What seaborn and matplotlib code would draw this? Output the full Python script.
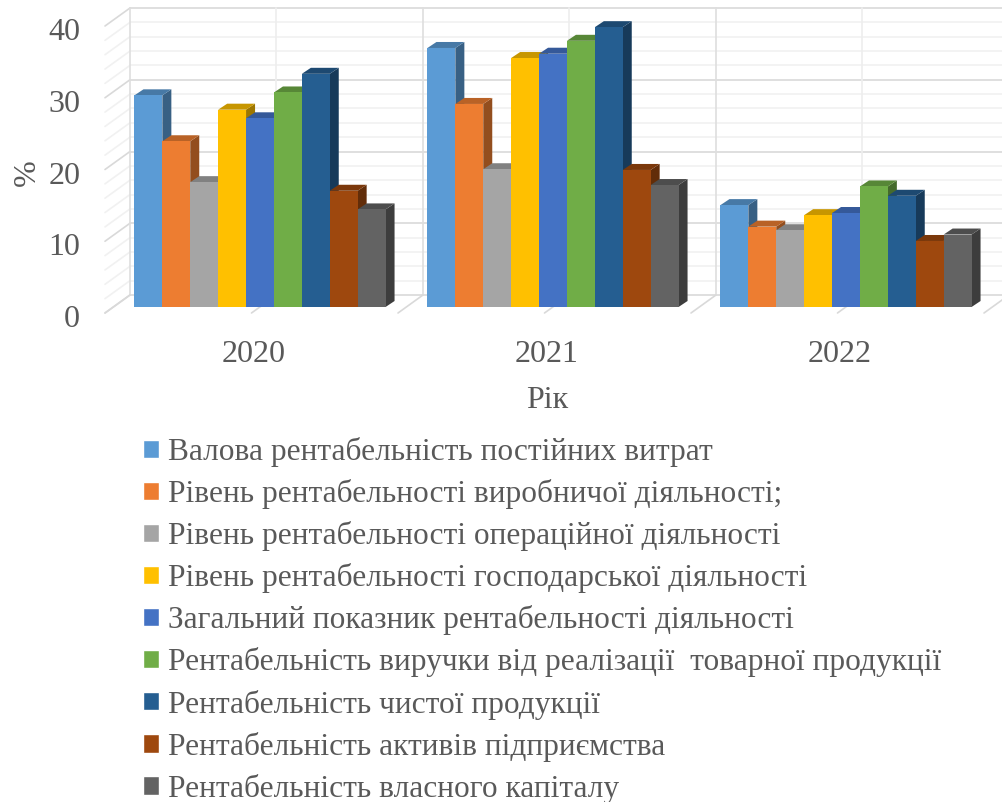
import matplotlib
matplotlib.use("Agg")
import matplotlib.pyplot as plt
import matplotlib.transforms as mtransforms
from matplotlib.colors import to_rgb
from matplotlib.lines import Line2D
from matplotlib.patches import Polygon
import pandas as pd
import seaborn as sns

years = ["2020", "2021", "2022"]
series_names = [
    "Валова рентабельність постійних витрат",
    "Рівень рентабельності виробничої діяльності;",
    "Рівень рентабельності операційної діяльності",
    "Рівень рентабельності господарської діяльності",
    "Загальний показник рентабельності діяльності",
    "Рентабельність виручки від реалізації  товарної продукції",
    "Рентабельність чистої продукції",
    "Рентабельність активів підприємства",
    "Рентабельність власного капіталу",
]
values_2020 = [29.5, 23.1, 17.4, 27.5, 26.3, 29.9, 32.5, 16.2, 13.6]
values_2021 = [36.1, 28.3, 19.2, 34.7, 35.3, 37.1, 39.0, 19.1, 17.0]
values_2022 = [14.2, 11.2, 10.7, 12.8, 13.1, 16.8, 15.5, 9.2, 10.1]
colors = ["#5B9BD5", "#ED7D31", "#A5A5A5", "#FFC000", "#4472C4",
          "#70AD47", "#255E91", "#9E480E", "#636363"]
y_ticks = [0, 10, 20, 30, 40]

TEXT = "#595959"

rows = []
for year, vals in zip(years, [values_2020, values_2021, values_2022]):
    for name, v in zip(series_names, vals):
        rows.append({"Рік": year, "показник": name, "value": v})
df = pd.DataFrame(rows)

sns.set_theme(style="white")
plt.rcParams["font.family"] = ["Liberation Serif", "DejaVu Serif"]

W, H = 1003, 802
fig = plt.figure(figsize=(W / 100, H / 100), dpi=100)
# axes sit on the plane of the bars' front faces, the "3D" box is drawn around it
ax = fig.add_axes([113.5 / W, (H - 307) / H, 879 / W, 287 / H])
ax.set_zorder(1)

sns.barplot(data=df, x="Рік", y="value", hue="показник", palette=colors,
            hue_order=series_names, order=years, width=0.857, saturation=1,
            gap=0, ax=ax)
ax.set_xlim(-0.5, 2.5)
ax.set_ylim(0, 40)
sns.despine(ax=ax, left=True, bottom=True, top=True, right=True)
ax.patch.set_alpha(0)


def darker(color, k):
    r, g, b = to_rgb(color)
    return (r * k, g * k, b * k)


# pixel offsets of back wall and front floor edge, and bar depth
BACK = (16.5, 12)
FRONT = (-8.5, -6)
DEPTH = (9, 6)
identity = mtransforms.IdentityTransform()
to_px = ax.transData.transform


def wall_line(p0, p1, color, lw=1.2):
    fig.add_artist(Line2D([p0[0], p1[0]], [p0[1], p1[1]], color=color, lw=lw,
                          transform=identity, zorder=0.5))


x_right = 2.5
for v in range(0, 41, 2):
    major = v % 10 == 0
    col = "#d9d9d9" if major else "#f1f1f1"
    x0, y0 = to_px((-0.5, v))
    x1, _ = to_px((x_right, v))
    wall_line((x0 + BACK[0], y0 + BACK[1]), (x1 + BACK[0], y0 + BACK[1]), col)
    wall_line((x0 + FRONT[0], y0 + FRONT[1]), (x0 + BACK[0], y0 + BACK[1]), col)

for k in range(7):
    xv = -0.5 + 0.5 * k
    px, py0 = to_px((xv, 0))
    _, py1 = to_px((xv, 40))
    col = "#dedede" if k % 2 == 0 else "#eeeeee"
    wall_line((px + BACK[0], py0 + BACK[1]), (px + BACK[0], py1 + BACK[1]), col)
    wall_line((px + FRONT[0], py0 + FRONT[1]), (px + BACK[0], py0 + BACK[1]), "#d9d9d9")

# side and top faces for each bar, painted left to right
for i, container in enumerate(ax.containers):
    for bar in container:
        x0, y0 = to_px((bar.get_x(), 0))
        x1, y1 = to_px((bar.get_x() + bar.get_width(), bar.get_height()))
        dx, dy = DEPTH
        color = colors[i]
        z = 3 + i
        bar.set_zorder(z + 0.5)
        bar.set_linewidth(0)
        side = [(x1, y0), (x1 + dx, y0 + dy), (x1 + dx, y1 + dy), (x1, y1)]
        top = [(x0, y1), (x1, y1), (x1 + dx, y1 + dy), (x0 + dx, y1 + dy)]
        ax.add_patch(Polygon(side, closed=True, fc=darker(color, 0.62), ec="none",
                             transform=identity, clip_on=False, zorder=z))
        ax.add_patch(Polygon(top, closed=True, fc=darker(color, 0.78), ec="none",
                             transform=identity, clip_on=False, zorder=z + 0.2))

# ticks
ax.set_yticks(y_ticks)
ax.tick_params(axis="both", length=0, labelsize=23, labelcolor=TEXT)
ax.tick_params(axis="y", pad=24)
ax.tick_params(axis="x", pad=24)
for lab in ax.get_yticklabels():
    lab.set_transform(lab.get_transform() + mtransforms.Affine2D().translate(0, -9))
for lab in ax.get_xticklabels():
    lab.set_transform(lab.get_transform() + mtransforms.Affine2D().translate(-6, 0))

ax.set_xlabel("Рік", fontsize=23, color=TEXT, va="center")
ax.xaxis.set_label_coords((547 - 113.5) / 879, (307 - 400) / 287)
ax.set_ylabel("%", fontsize=23, color=TEXT, va="center")
ax.yaxis.set_label_coords((27 - 113.5) / 879, (307 - 173) / 287)

handles, labels = ax.get_legend_handles_labels()
ax.legend(handles, labels, loc="upper left", frameon=False,
          bbox_to_anchor=(143 / W, 1 - 437 / H), bbox_transform=fig.transFigure,
          prop={"size": 22.6}, labelcolor=TEXT, borderpad=0, borderaxespad=0,
          handlelength=0.51, handleheight=0.51, handletextpad=0.28, labelspacing=0.385)

fig.savefig("out.png", dpi=100, facecolor="white")
